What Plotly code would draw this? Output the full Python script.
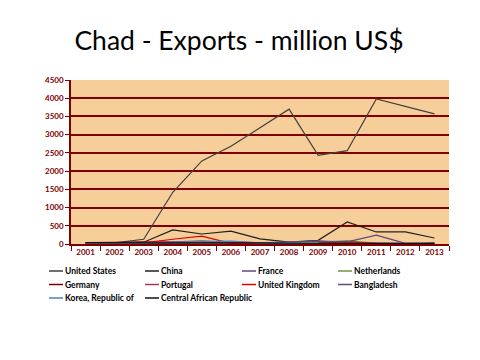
import plotly.graph_objects as go

years = ["2001","2002","2003","2004","2005","2006","2007","2008","2009","2010","2011","2012","2013"]
united_states = [30, 30, 130, 1420, 2280, 2680, 3190, 3700, 2430, 2560, 3980, 3780, 3570]
china = [20, 30, 50, 385, 275, 355, 140, 50, 100, 605, 330, 330, 165]
france = [10, 15, 20, 30, 40, 30, 20, 40, 80, 40, 30, 10, 20]
netherlands = [5, 5, 10, 10, 20, 20, 10, 20, 40, 90, 20, 5, 10]
germany = [40, 40, 40, 60, 80, 40, 20, 10, 20, 60, 10, 5, 10]
portugal = [5, 10, 20, 40, 30, 20, 10, 10, 20, 50, 20, 10, 10]
united_kingdom = [20, 20, 30, 130, 215, 15, 10, 10, 10, 40, 10, 10, 10]
bangladesh = [5, 5, 10, 30, 40, 60, 30, 50, 80, 60, 245, 15, 40]
korea = [10, 10, 20, 60, 70, 80, 30, 10, 10, 10, 10, 10, 10]
central_african_republic = [30, 30, 40, 40, 40, 50, 30, 20, 20, 30, 20, 10, 10]

series = [
    ("United States", united_states, "#404040"),
    ("China", china, "#202020"),
    ("France", france, "#604A7B"),
    ("Netherlands", netherlands, "#77933C"),
    ("Germany", germany, "#800000"),
    ("Portugal", portugal, "#A0385A"),
    ("United Kingdom", united_kingdom, "#E00000"),
    ("Bangladesh", bangladesh, "#5F497A"),
    ("Korea, Republic of", korea, "#4F81BD"),
    ("Central African Republic", central_african_republic, "#101010"),
]

# page body has an 8px default margin; compensate so screen positions match
OFF = 8
W, H = 480, 360
# desired screen plot area: x 71..449, y 80..244
L, T = 71 - OFF, 80 - OFF
R = W - (449 - OFF)
B = H - (244 - OFF)
PW, PH = W - L - R, H - T - B

def px_x(px):
    return (px - OFF - L) / PW

def px_y(py):
    return (H - B - (py - OFF)) / PH

fig = go.Figure()
for name, vals, color in series:
    fig.add_trace(go.Scatter(x=years, y=vals, name=name, mode="lines",
                             line=dict(color=color, width=1.2), showlegend=False))

# custom legend (4 columns)
col_x = [49, 145, 242, 338]
row_y = [271, 284.5, 298]
for i, (name, vals, color) in enumerate(series):
    cx = col_x[i % 4]
    ry = row_y[i // 4]
    fig.add_shape(type="line", xref="paper", yref="paper",
                  x0=px_x(cx), x1=px_x(cx + 14), y0=px_y(ry), y1=px_y(ry),
                  line=dict(color=color, width=1.5))
    fig.add_annotation(text=name, xref="paper", yref="paper",
                       x=px_x(cx + 14), y=px_y(ry), xanchor="left", yanchor="middle",
                       showarrow=False,
                       font=dict(family="Lato", size=8.5, color="black", weight="bold"))

maroon = "#800000"
fig.update_layout(
    width=W, height=H,
    margin=dict(l=L, r=R, t=T, b=B, autoexpand=False),
    paper_bgcolor="white",
    plot_bgcolor="#F6CE9A",
    title=dict(text="Chad - Exports - million US$", x=(239 - OFF) / W, xanchor="center",
               y=1 - (41 - OFF) / H, yanchor="middle", xref="container", yref="container",
               font=dict(family="Lato", size=26.5, color="black")),
    xaxis=dict(type="category", range=[-0.5, 12.5], tickson="boundaries",
               ticks="outside", ticklen=5, tickcolor=maroon,
               showline=True, linecolor=maroon, linewidth=1.5,
               showgrid=False,
               tickfont=dict(family="Lato", size=8, color=maroon, weight="bold")),
    yaxis=dict(range=[0, 4500], dtick=500, ticks="outside", ticklen=4, tickcolor=maroon,
               showline=True, linecolor=maroon, linewidth=1.5,
               gridcolor=maroon, gridwidth=1.5, zeroline=False,
               tickfont=dict(family="Lato", size=8, color=maroon, weight="bold")),
    showlegend=False,
)
fig.write_html("out.html")
